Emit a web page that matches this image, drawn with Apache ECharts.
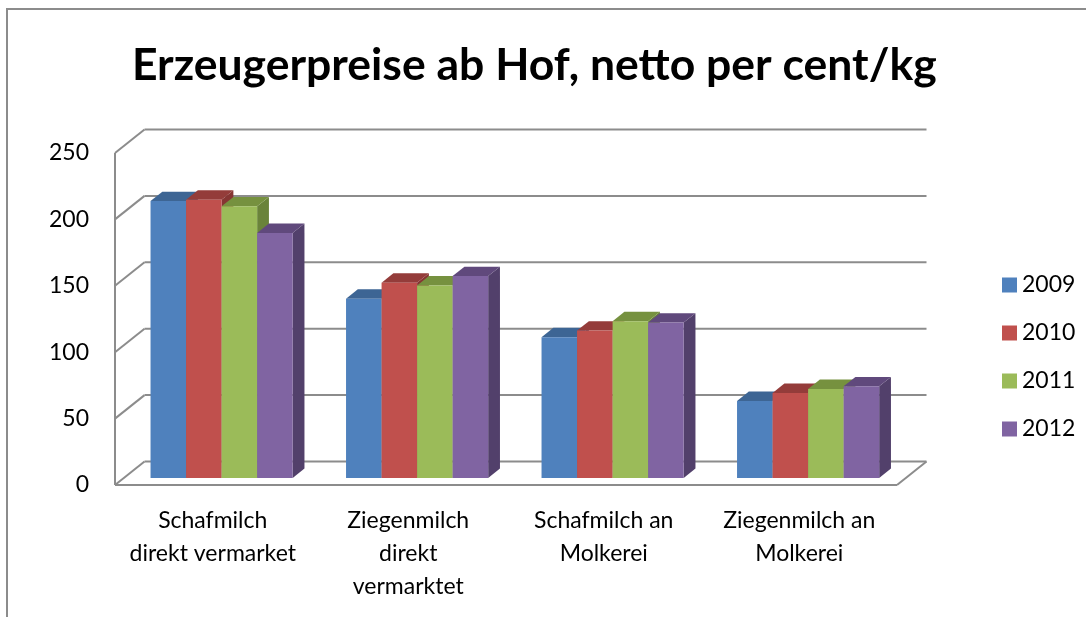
<!DOCTYPE html>
<html><head><meta charset="utf-8">
<script src="https://cdn.jsdelivr.net/npm/echarts@6/dist/echarts.min.js"></script>
<style>html,body{margin:0;padding:0;background:#fff}#c{width:1086px;height:617px}</style>
</head><body><div id="c"></div>
<script>
const titleText = 'Erzeugerpreise ab Hof, netto per cent/kg';
const categories = ['Schafmilch\ndirekt vermarket', 'Ziegenmilch\ndirekt\nvermarktet', 'Schafmilch an\nMolkerei', 'Ziegenmilch an\nMolkerei'];
const years = ['2009', '2010', '2011', '2012'];
const v2009 = [208.5, 135, 106, 58];
const v2010 = [209.5, 147, 111, 64];
const v2011 = [204.5, 145, 118, 67];
const v2012 = [184.5, 152, 117, 69];
const yTicks = [0, 50, 100, 150, 200, 250];
const seriesValues = [v2009, v2010, v2011, v2012];

const frontColors = ['#4F81BD', '#C0504D', '#9BBB59', '#8064A2'];
const topColors = ['#3D6594', '#943C3A', '#76913F', '#60497C'];
const sideColors = ['#365A85', '#863533', '#6A833A', '#52406B'];
const gridColor = '#8c8c8c';
const FONT = 'Lato';

const DEPTH = [29.5, -23.5];
const BAR_FRONT = 0.3, BAR_BACK = 0.7;
const GROUP_FRAC = 0.727;

function barRenderer(k) {
  return function (params, api) {
    const idx = api.value(0), val = api.value(1);
    const base = api.coord([idx, 0]);
    const top = api.coord([idx, val]);
    const bw = api.size([1, 0])[0];
    const gw = bw * GROUP_FRAC, w = gw / 4;
    const fx = DEPTH[0] * BAR_FRONT, fy = DEPTH[1] * BAR_FRONT;
    const dx = DEPTH[0] * (BAR_BACK - BAR_FRONT), dy = DEPTH[1] * (BAR_BACK - BAR_FRONT);
    const x0 = base[0] - gw / 2 + k * w + fx, x1 = x0 + w;
    const yb = base[1] + fy, yt = top[1] + fy;
    return {
      type: 'group', children: [
        { type: 'polygon', shape: { points: [[x1, yb], [x1 + dx, yb + dy], [x1 + dx, yt + dy], [x1, yt]] }, style: { fill: sideColors[k] } },
        { type: 'polygon', shape: { points: [[x0, yt], [x1, yt], [x1 + dx, yt + dy], [x0 + dx, yt + dy]] }, style: { fill: topColors[k] } },
        { type: 'rect', shape: { x: x0, y: yt, width: w, height: yb - yt }, style: { fill: frontColors[k] } }
      ]
    };
  };
}

function wallRenderer(params, api) {
  const v = api.value(1);
  const n = categories.length;
  const bw = api.size([1, 0])[0];
  const pL = api.coord([0, v]);
  const xL = pL[0] - bw / 2;
  const xR = api.coord([n - 1, v])[0] + bw / 2;
  const y = pL[1];
  const ls = { stroke: gridColor, lineWidth: 2, fill: null };
  const ch = [
    { type: 'line', shape: { x1: xL, y1: y, x2: xL + DEPTH[0], y2: y + DEPTH[1] }, style: ls },
    { type: 'line', shape: { x1: xL + DEPTH[0], y1: y + DEPTH[1], x2: xR + DEPTH[0], y2: y + DEPTH[1] }, style: ls }
  ];
  if (v === 0) {
    const yTop = api.coord([0, yTicks[yTicks.length - 1]])[1];
    ch.push({ type: 'line', shape: { x1: xL, y1: y, x2: xR, y2: y }, style: ls });
    ch.push({ type: 'line', shape: { x1: xR, y1: y, x2: xR + DEPTH[0], y2: y + DEPTH[1] }, style: ls });
    ch.push({ type: 'line', shape: { x1: xL, y1: y, x2: xL, y2: yTop }, style: ls });
  }
  return { type: 'group', children: ch };
}

const chart = echarts.init(document.getElementById('c'), null, { renderer: 'canvas' });
const series = [{
  type: 'custom', name: 'walls', clip: false, silent: true, z: 1,
  data: yTicks.map(v => [0, v]), encode: { x: 0, y: 1 },
  renderItem: wallRenderer
}];
years.forEach((yr, k) => {
  series.push({
    type: 'custom', name: yr, clip: false, z: 2 + k,
    itemStyle: { color: frontColors[k] },
    data: seriesValues[k].map((v, i) => [i, v]),
    encode: { x: 0, y: 1 },
    renderItem: barRenderer(k)
  });
});

chart.setOption({
  animation: false,
  backgroundColor: '#fff',
  title: {
    text: titleText, left: 127, top: 38,
    textStyle: { fontFamily: FONT, fontSize: 44.5, fontWeight: 'bold', color: '#000' }
  },
  legend: {
    data: years, orient: 'vertical', left: 997, top: 268,
    itemWidth: 15, itemHeight: 15, itemGap: 24, icon: 'rect',
    textStyle: { fontFamily: FONT, fontSize: 23, color: '#000', lineHeight: 24 }
  },
  grid: { left: 115, right: 189, top: 153, bottom: 132, containLabel: false },
  xAxis: {
    type: 'category', data: categories,
    axisLine: { show: false }, axisTick: { show: false }, splitLine: { show: false },
    axisLabel: { interval: 0, margin: 19, fontFamily: FONT, fontSize: 23, lineHeight: 33, color: '#000' }
  },
  yAxis: {
    type: 'value', min: 0, max: 250, interval: 50,
    axisLine: { show: false }, axisTick: { show: false }, splitLine: { show: false },
    axisLabel: { margin: 26, fontFamily: FONT, fontSize: 23, color: '#000' }
  },
  graphic: [{
    type: 'polyline', silent: true,
    shape: { points: [[7, 617], [7, 9], [1086, 9]] },
    style: { stroke: gridColor, lineWidth: 2, fill: null }
  }],
  series: series
});
</script>
</body></html>
